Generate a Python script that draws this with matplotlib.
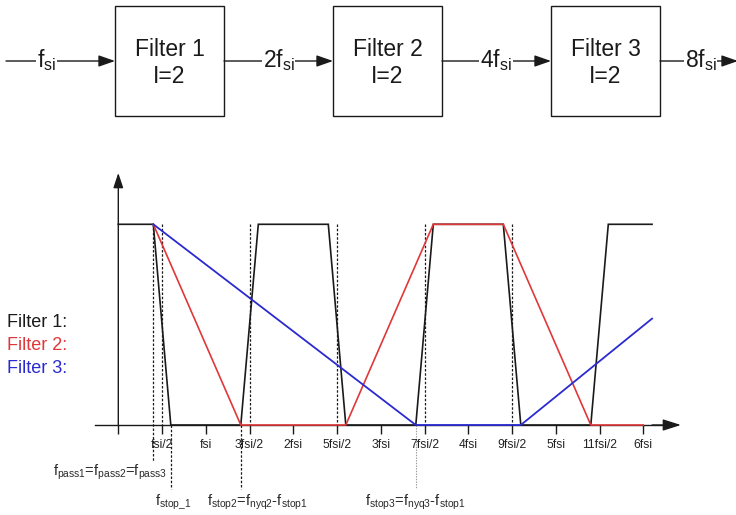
import matplotlib
matplotlib.use("Agg")
import matplotlib.pyplot as plt
from matplotlib.patches import Rectangle

plt.rcParams["font.family"] = ["Liberation Sans", "DejaVu Sans"]
plt.rcParams["mathtext.fontset"] = "custom"
plt.rcParams["mathtext.rm"] = "Liberation Sans"
plt.rcParams["mathtext.it"] = "Liberation Sans"
plt.rcParams["mathtext.default"] = "regular"

# ---- interpolation chain ----
stage_names = ["Filter 1", "Filter 2", "Filter 3"]
stage_factor = ["I=2", "I=2", "I=2"]
rate_labels = [r"$f_{si}$", r"$2f_{si}$", r"$4f_{si}$", r"$8f_{si}$"]

# ---- magnitude responses (frequency in units of fsi, gain 0..1) ----
f1_freq = [0, 0.4, 0.6, 1.4, 1.6, 2.4, 2.6, 3.4, 3.6, 4.4, 4.6, 5.4, 5.6, 6.1]
f1_gain = [1, 1, 0, 0, 1, 1, 0, 0, 1, 1, 0, 0, 1, 1]
f2_freq = [0.4, 1.4, 2.6, 3.6, 4.4, 5.4, 6.0]
f2_gain = [1, 0, 0, 1, 1, 0, 0]
f3_freq = [0.4, 3.4, 4.6, 6.1]
f3_gain = [1, 0, 0, 0.53]

tick_pos = [0, 0.5, 1, 1.5, 2, 2.5, 3, 3.5, 4, 4.5, 5, 5.5, 6]
tick_lab = ["", "fsi/2", "fsi", "3fsi/2", "2fsi", "5fsi/2", "3fsi",
            "7fsi/2", "4fsi", "9fsi/2", "5fsi", "11fsi/2", "6fsi"]

f_pass = 0.4
f_stop1 = 0.6
f_stop2 = 1.4
f_stop3 = 3.4
nyquist_marks = [0.5, 1.5, 2.5, 3.5, 4.5]

BLACK = "#1a1a1a"
RED = "#e0373a"
BLUE = "#2a2ad0"

W, H = 736, 515
fig = plt.figure(figsize=(W / 100, H / 100), dpi=100)

# ---------------- spectrum panel ----------------
ax = fig.add_axes([0, 0, 1, 1])
x0_px, px_per_fsi = 118.3, 87.5
y0_px, px_per_unit = 90.0, 200.7
ax.set_xlim(-x0_px / px_per_fsi, (W - x0_px) / px_per_fsi)
ax.set_ylim(-y0_px / px_per_unit, (H - y0_px) / px_per_unit)
ax.patch.set_alpha(0)

for s in ["top", "right", "left"]:
    ax.spines[s].set_visible(False)
ax.spines["bottom"].set_position(("data", 0))
ax.spines["bottom"].set_bounds(-0.27, 6.3)
ax.spines["bottom"].set_linewidth(1.0)
ax.spines["bottom"].set_color(BLACK)
ax.set_yticks([])
ax.set_xticks(tick_pos)
ax.set_xticklabels(tick_lab, fontsize=8.7, color="#222222")
ax.tick_params(axis="x", direction="out", length=6.8, width=1.0,
               color=BLACK, pad=3)

# axis arrows
ax.annotate("", xy=(6.43, 0), xytext=(6.1, 0),
            arrowprops=dict(arrowstyle="-|>,head_length=1.1,head_width=0.35",
                            color=BLACK, lw=1.0, shrinkA=0, shrinkB=0))
ax.annotate("", xy=(0, 1.256), xytext=(0, 0),
            arrowprops=dict(arrowstyle="-|>,head_length=0.9,head_width=0.3",
                            color=BLACK, lw=1.0, shrinkA=0, shrinkB=0))

# guide lines
dash = (0, (2.0, 1.4))
ax.plot([f_pass, f_pass], [1, -0.18], color=BLACK, lw=0.9, ls=dash, zorder=1)
for xm in nyquist_marks:
    ax.plot([xm, xm], [1, 0], color=BLACK, lw=0.9, ls=dash, zorder=1)
for xs in [f_stop1, f_stop2]:
    ax.plot([xs, xs], [0, -0.32], color=BLACK, lw=0.9, ls=dash, zorder=1)
ax.plot([f_stop3, f_stop3], [0, -0.32], color="#9a9a9a", lw=0.8,
        ls=(0, (1.2, 1.2)), zorder=1)

# responses
ax.plot(f1_freq, f1_gain, color=BLACK, lw=1.2, zorder=3, solid_joinstyle="miter")
ax.plot(f2_freq, f2_gain, color=RED, lw=1.2, zorder=4)
ax.plot(f3_freq, f3_gain, color=BLUE, lw=1.3, zorder=5)

# legend-like labels
for i, (txt, col) in enumerate(zip(["Filter 1:", "Filter 2:", "Filter 3:"],
                                   [BLACK, RED, BLUE])):
    ax.text(-1.272, 0.511 - 0.114 * i, txt, color=col, fontsize=13,
            ha="left", va="center")

# frequency annotations
ann = dict(fontsize=10.5, color="#2a2a2a", ha="left", va="center")
ax.text(-0.746, -0.234, r"$f_{pass1}$=$f_{pass2}$=$f_{pass3}$", **ann)
ax.text(0.42, -0.384, r"$f_{stop\_1}$", **ann)
ax.text(1.01, -0.384, r"$f_{stop2}$=$f_{nyq2}$-$f_{stop1}$", **ann)
ax.text(2.82, -0.384, r"$f_{stop3}$=$f_{nyq3}$-$f_{stop1}$", **ann)

# ---------------- block diagram ----------------
bx = fig.add_axes([0, 0, 1, 1])
bx.set_xlim(0, W)
bx.set_ylim(H, 0)
bx.axis("off")
bx.patch.set_alpha(0)

box_left, box_w, box_top, box_h, box_step = 115.0, 109.0, 6.0, 110.0, 218.0
line_y = 61.0
for i, (name, fac) in enumerate(zip(stage_names, stage_factor)):
    left = box_left + i * box_step
    bx.add_patch(Rectangle((left, box_top), box_w, box_h, fill=False,
                           ec=BLACK, lw=1.0))
    cx = left + box_w / 2
    bx.text(cx, 55.7, name, fontsize=16.5, ha="center", va="baseline", color=BLACK)
    bx.text(cx, 83.3, fac, fontsize=16.5, ha="center", va="baseline", color=BLACK)

label_cx = [46.5, 278.5, 496.3, 700.5]
for i, lab in enumerate(rate_labels):
    start = 6.0 if i == 0 else box_left + (i - 1) * box_step + box_w
    end = box_left + i * box_step if i < 3 else 738.0
    bx.annotate("", xy=(end, line_y), xytext=(start, line_y),
                annotation_clip=False,
                arrowprops=dict(arrowstyle="-|>,head_length=1.0,head_width=0.35",
                                color=BLACK, lw=1.0, shrinkA=0, shrinkB=0))
    bx.text(label_cx[i], 66.7, lab, fontsize=16.5, ha="center", va="baseline",
            color=BLACK, bbox=dict(fc="white", ec="none", pad=0.6))

fig.savefig("out.png", dpi=100)
